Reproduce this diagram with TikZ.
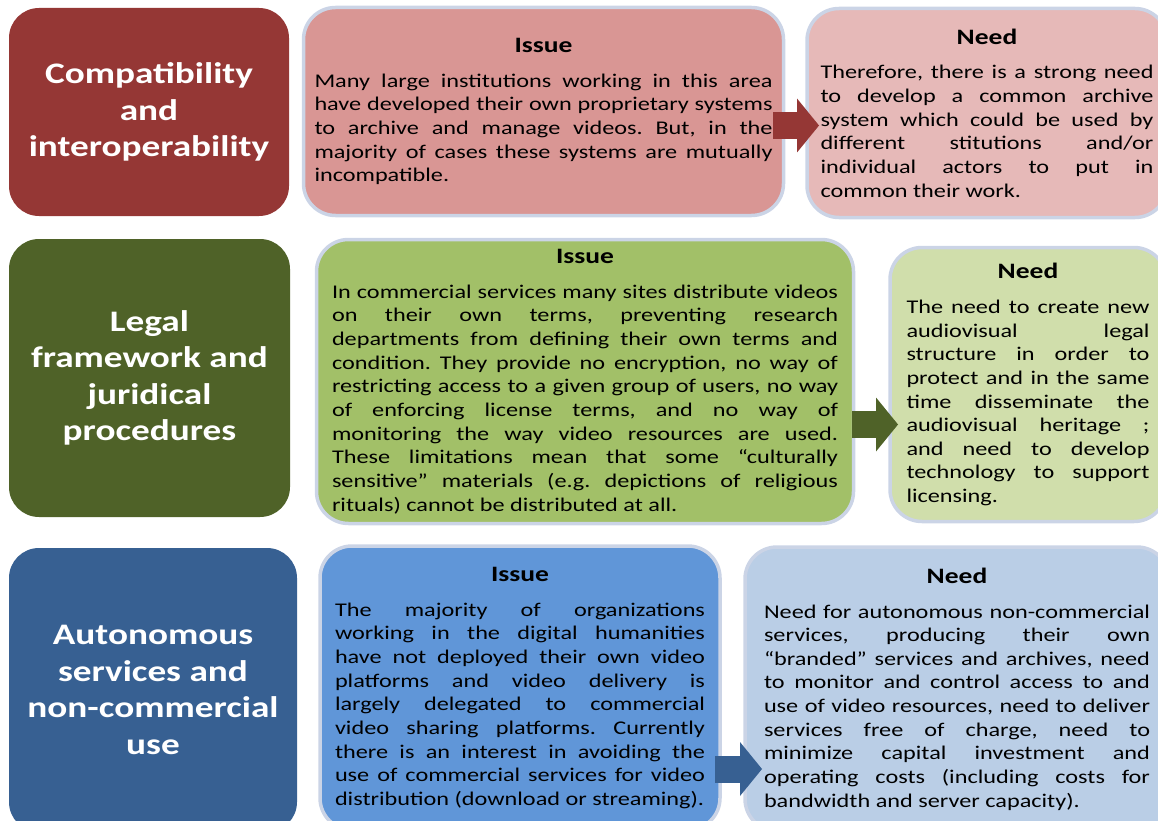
\documentclass[tikz,border=0pt]{standalone}
\usepackage{fontspec}
\setmainfont[FakeStretch=1.25]{Carlito}
\usepackage{xcolor}
\usetikzlibrary{arrows.meta,calc,positioning}
\definecolor{redDark}{HTML}{953735}
\definecolor{redIssue}{HTML}{D99694}
\definecolor{redNeed}{HTML}{E6B9B8}
\definecolor{greenDark}{HTML}{4F6228}
\definecolor{greenIssue}{HTML}{A2C068}
\definecolor{greenNeed}{HTML}{D0DEAB}
\definecolor{blueDark}{HTML}{376092}
\definecolor{blueIssue}{HTML}{6096D8}
\definecolor{blueNeed}{HTML}{BACEE6}
\definecolor{rim}{HTML}{CBD4E6}
\newcommand{\bodyfont}{\fontsize{19.4}{23.65}\selectfont}
\newcommand{\headfont}{\fontsize{22}{26}\selectfont\bfseries}
\newcommand{\titlefont}{\fontsize{29.8}{36.5}\selectfont\bfseries}
\newcommand{\head}[1]{{\headfont\hfill #1\hfill\null}\par\vspace{11.3pt}}
\tikzset{%
	titlebox/.style = {rectangle, rounded corners=30pt, text=white, align=center, font=\titlefont},
	textbox/.style  = {rectangle, rounded corners=32pt, draw=rim, line width=3.5pt, align=justify, font=\bodyfont, inner sep=0pt},
	bigarrow/.style = {line width=27pt, -{Triangle[length=22pt,width=54pt,line width=0pt]}},
}
\begin{document}
\begin{tikzpicture}[x=1pt,y=-1pt]
		\useasboundingbox (0,0) rectangle (1158,821);
		\clip (0,0) rectangle (1158,821);
		\tolerance=10000 \hyphenpenalty=10000 \frenchspacing
		
		% row 1
		\node[titlebox,fill=redDark,minimum width=280,minimum height=208] (t1) at (149,112) {Compatibility\\and\\interoperability};
		\node[textbox,fill=redIssue,minimum width=480,minimum height=208,text width=458] (i1) at (543.5,111.5) {\head{Issue}Many large institutions working in this area\linebreak have developed their own proprietary systems\linebreak to archive and manage videos. But, in the\linebreak majority of cases these systems are mutually\linebreak incompatible.};
		\node[textbox,fill=redNeed,minimum width=360,minimum height=209,text width=333] (n1) at (987,113) {\head{Need}Therefore, there is a strong need\linebreak to develop a common archive\linebreak system which could be used by\linebreak different stitutions and/or\linebreak individual actors to put in\linebreak common their work.};
		
		% row 2
		\node[titlebox,fill=greenDark,minimum width=281,minimum height=278] (t2) at (149.5,378) {Legal\\framework and\\juridical\\procedures};
		\node[textbox,fill=greenIssue,minimum width=537,minimum height=284,text width=506] (i2) at (585,381.5) {\head{Issue}In commercial services many sites distribute videos\linebreak on their own terms, preventing research\linebreak departments from defining their own terms and\linebreak condition. They provide no encryption, no way of\linebreak restricting access to a given group of users, no way\linebreak of enforcing license terms, and no way of\linebreak monitoring the way video resources are used.\linebreak These limitations mean that some “culturally\linebreak sensitive” materials (e.g. depictions of religious\linebreak rituals) cannot be distributed at all.};
		\node[textbox,fill=greenNeed,minimum width=276,minimum height=274,text width=243] (n2) at (1028,384.5) {\head{Need}The need to create new\linebreak audiovisual legal\linebreak structure in order to\linebreak protect and in the same\linebreak time disseminate the\linebreak audiovisual heritage ;\linebreak and need to develop\linebreak technology to support\linebreak licensing.};
		
		% row 3
		\node[titlebox,fill=blueDark,minimum width=288,minimum height=284] (t3) at (153,690) {Autonomous\\services and\\non-commercial\\use};
		\node[textbox,fill=blueIssue,minimum width=400,minimum height=284,text width=370] (i3) at (520,688) {\head{Issue}The majority of organizations\linebreak working in the digital humanities\linebreak have not deployed their own video\linebreak platforms and video delivery is\linebreak largely delegated to commercial\linebreak video sharing platforms. Currently\linebreak there is an interest in avoiding the\linebreak use of commercial services for video\linebreak distribution (download or streaming).};
		\node[textbox,fill=blueNeed,minimum width=424,minimum height=284,text width=386] (n3) at (957,689) {\head{Need}Need for autonomous non-commercial\linebreak services, producing their own\linebreak “branded” services and archives, need\linebreak to monitor and control access to and\linebreak use of video resources, need to deliver\linebreak services free of charge, need to\linebreak minimize capital investment and\linebreak operating costs (including costs for\linebreak bandwidth and server capacity).};
		
		% arrows issue -> need
		\coordinate (a1s) at (773,125.5);
		\coordinate (a1e) at (819,125.5);
		\coordinate (a2s) at (852,424.5);
		\coordinate (a2e) at (898,424.5);
		\coordinate (a3s) at (715,769);
		\coordinate (a3e) at (762,769);
		\draw[bigarrow,redDark] (a1s) -- (a1e);
		\draw[bigarrow,greenDark] (a2s) -- (a2e);
		\draw[bigarrow,blueDark] (a3s) -- (a3e);
\end{tikzpicture}
\end{document}
